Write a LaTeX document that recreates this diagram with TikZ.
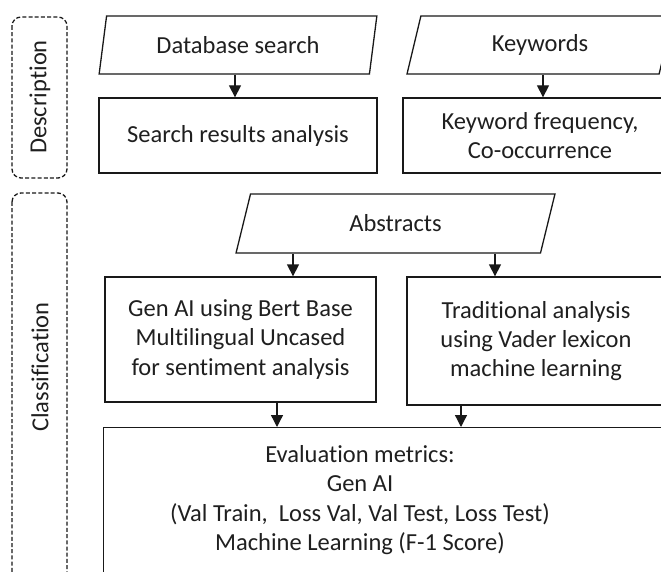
\documentclass[tikz,border=0pt]{standalone}
\usepackage{fontspec}
\setmainfont{Carlito}[Ligatures={NoCommon}]
\usetikzlibrary{shapes.geometric,arrows.meta}
\begin{document}
\begin{tikzpicture}[x=1pt,y=-1pt,
  every node/.style={font=\fontsize{24.5}{29.2}\selectfont, text=black!88},
  box/.style={draw=black!90, line width=1.3pt, rectangle, inner sep=0pt, align=center},
  para/.style={draw=black!90, line width=1.3pt, trapezium, trapezium left angle=75,
    trapezium right angle=105, trapezium stretches=true, inner sep=0pt},
  phase/.style={draw=black!90, line width=1.3pt, dash pattern=on 4pt off 2.2pt,
    rounded corners=9pt},
  arr/.style={draw=black!90, line width=1.3pt, -{Triangle[length=12pt,width=12pt]}},
  phaselabel/.style={rotate=90, inner sep=0pt}]
\useasboundingbox (0,0) rectangle (661,572);
\clip (0,0) rectangle (661,572);

% phase frames on the left
\draw[phase] (12,17) rectangle (67,178);
\draw[phase] (12,193) rectangle (67,610);
\node[phaselabel] (ldesc) at (40,97) {Description};
\node[phaselabel] (lclass) at (40,367) {Classification};

% description stage
\node[para, minimum width=278pt, minimum height=58pt] (db) at (238,45) {Database search};
\node[box, minimum width=278pt, minimum height=75pt] (sr) at (238,135.5) {Search results analysis};
\node[para, minimum width=266pt, minimum height=58pt] (kw) at (540,45) {Keywords};
\node[box, minimum width=274pt, minimum height=75pt] (kf) at (540,135.5) {Keyword frequency,\\Co-occurrence};

% classification stage
\node[para, minimum width=319pt, minimum height=59pt] (abs) at (395.5,223.5) {Abstracts};
\node[box, minimum width=271pt, minimum height=125pt] (gen) at (240.5,339.5)
  {Gen AI using Bert Base\\Multilingual Uncased\\for sentiment analysis};
\node[box, minimum width=258pt, minimum height=128pt] (trad) at (536,341)
  {Traditional analysis\\using Vader lexicon\\machine learning};
\node[box, minimum width=577pt, minimum height=180pt, anchor=north west] (eval) at (103,427) {};
\node[align=center, inner sep=0pt] (evaltxt) at (360,500)
  {Evaluation metrics:\\Gen AI\\(Val Train,\ \ Loss Val, Val Test, Loss Test)\\Machine Learning (F-1 Score)};

% connectors
\coordinate (c1) at (235,0);
\coordinate (c2) at (543,0);
\coordinate (c3) at (293,0);
\coordinate (c4) at (495,0);
\coordinate (c5) at (277,0);
\coordinate (c6) at (461,0);
\draw[arr] (db.south -| c1) -- (sr.north -| c1);
\draw[arr] (kw.south -| c2) -- (kf.north -| c2);
\draw[arr] (abs.south -| c3) -- (gen.north -| c3);
\draw[arr] (abs.south -| c4) -- (trad.north -| c4);
\draw[arr] (gen.south -| c5) -- (eval.north -| c5);
\draw[arr] (trad.south -| c6) -- (eval.north -| c6);
\end{tikzpicture}
\end{document}
